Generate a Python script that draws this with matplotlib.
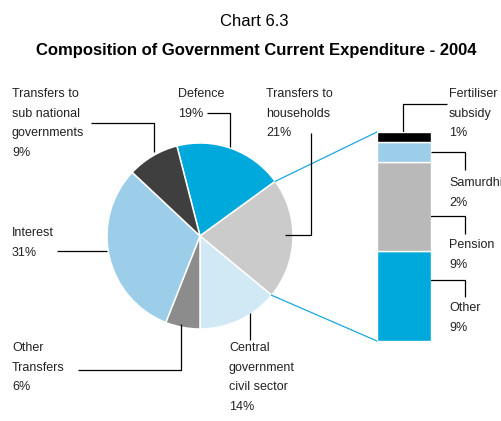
import matplotlib
matplotlib.use("Agg")
import matplotlib.pyplot as plt
import numpy as np

# Government current expenditure 2004, percent of total
categories = ["Defence", "Transfers to\nhouseholds", "Central\ngovernment\ncivil sector",
              "Other\nTransfers", "Interest", "Transfers to\nsub national\ngovernments"]
shares = [19, 21, 14, 6, 31, 9]
pie_colors = ["#00a9dc", "#cbcbcb", "#d1e8f5", "#8c8c8c", "#9ccde9", "#3f3f3f"]

# breakdown of transfers to households, bottom to top
hh_parts = ["Other", "Pension", "Samurdhi", "Fertiliser\nsubsidy"]
hh_shares = [9, 9, 2, 1]
hh_colors = ["#00a9dc", "#b9b9b9", "#9ccde9", "#000000"]

W, H = 502, 421
plt.rcParams["font.family"] = ["Liberation Sans", "DejaVu Sans"]

fig = plt.figure(figsize=(W / 100, H / 100), dpi=100)
ax = fig.add_axes([0, 0, 1, 1])


def up(pts):
    # pixel rows run downwards, axes run upwards
    xs = [p[0] for p in pts]
    ys = [H - p[1] for p in pts]
    return xs, ys


cx, cy, r = 200, H - 236, 93
start = -90 + 360 * sum(shares[:3]) / 100
ax.pie(shares, colors=pie_colors, startangle=start, counterclock=False,
       center=(cx, cy), radius=r,
       wedgeprops=dict(edgecolor="white", linewidth=1.1))
ax.set_xlim(0, W)
ax.set_ylim(0, H)
ax.set_aspect("equal")
ax.axis("off")

# stacked bar for the households slice
bx, bb, bw, bh = 377, 80, 54, 209
bax = fig.add_axes([bx / W, bb / H, bw / W, bh / H])
bottom = 0
for v, c in zip(hh_shares, hh_colors):
    bax.bar(0.5, v, width=1.0, bottom=bottom, color=c, edgecolor="white", linewidth=1.0)
    bottom += v
bax.set_xlim(0, 1)
bax.set_ylim(0, sum(hh_shares))
bax.axis("off")

# connector lines from the households wedge to the bar
t1 = np.radians(start - 360 * shares[0] / 100)
t2 = np.radians(start - 360 * sum(shares[:2]) / 100)
blue = "#1aa7dc"
ax.plot([cx + r * np.cos(t1), bx], [cy + r * np.sin(t1), bb + bh], color=blue, lw=0.9)
ax.plot([cx + r * np.cos(t2), bx], [cy + r * np.sin(t2), bb], color=blue, lw=0.9)

leaders = [
    [(91, 123), (154, 123), (154, 152)],
    [(207, 113), (230, 113), (230, 147)],
    [(285, 235), (311, 235), (311, 133)],
    [(57, 251), (107, 251)],
    [(78, 370), (181, 370), (181, 324)],
    [(250, 313), (250, 340)],
    [(403, 132), (403, 104), (447, 104)],
    [(431, 152), (465, 152), (465, 170)],
    [(429, 216), (465, 216), (465, 234)],
    [(429, 280), (465, 280), (465, 297)],
]
for pts in leaders:
    xs, ys = up(pts)
    ax.plot(xs, ys, color="black", lw=0.9, solid_capstyle="butt")

# label anchors: left x and top of first line, pixel rows
pie_label_pos = [(178, 88), (266, 88), (229, 342), (12, 342), (12, 227), (12, 88)]
bar_label_pos = [(449, 302), (449, 239), (449, 177), (449, 88)]

for name, v, (x, y) in zip(categories, shares, pie_label_pos):
    ax.text(x, H - y, f"{name}\n{v}%", ha="left", va="top", fontsize=9.0,
            linespacing=1.84, color="#222222")
for name, v, (x, y) in zip(hh_parts, hh_shares, bar_label_pos):
    ax.text(x, H - y, f"{name}\n{v}%", ha="left", va="top", fontsize=9.0,
            linespacing=1.84, color="#222222")

ax.text(W / 2 + 3, H - 22, "Chart 6.3", ha="center", va="center", fontsize=12)
ax.text(W / 2 + 5, H - 50, "Composition of Government Current Expenditure - 2004",
        ha="center", va="center", fontsize=12, fontweight="bold")

fig.savefig("out.png", dpi=100)
